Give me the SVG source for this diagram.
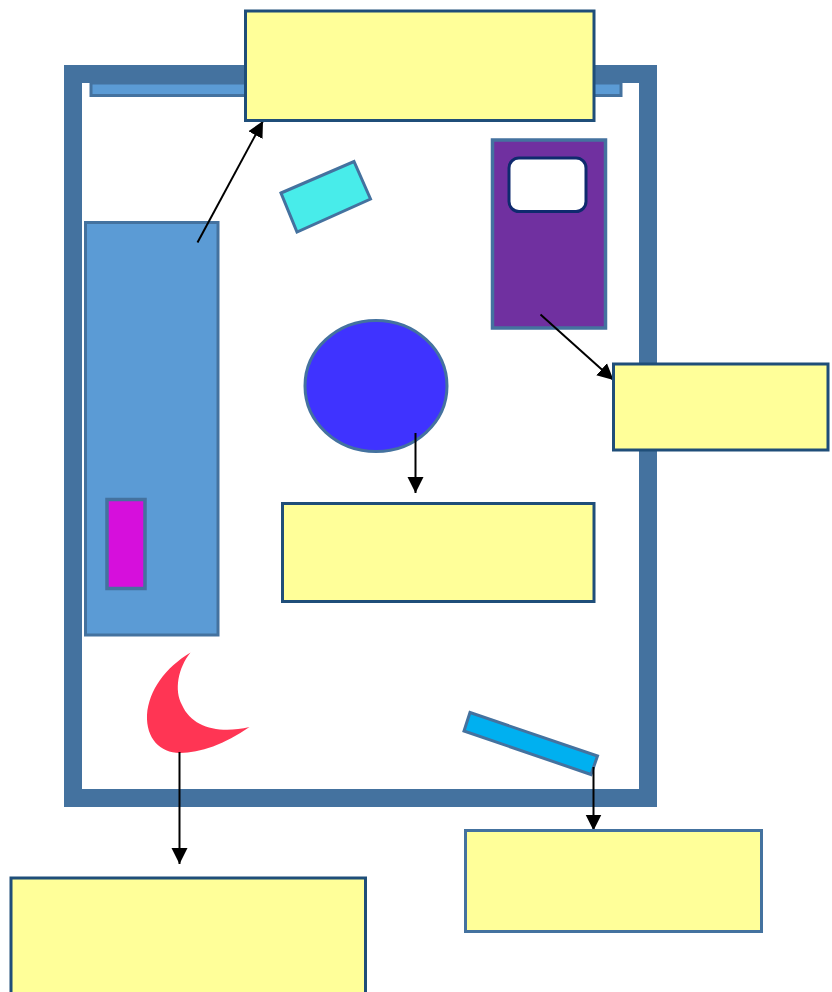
<svg xmlns="http://www.w3.org/2000/svg" width="832" height="992" viewBox="0 0 832 992">
<style>
.s{stroke:#44729f;stroke-width:3}
.n{fill:#ffff99;stroke:#1f4e79;stroke-width:3}
.c{stroke:#000;stroke-width:2;fill:none;marker-end:url(#a)}
</style>
<defs><marker id="a" markerUnits="userSpaceOnUse" markerWidth="17" markerHeight="17" refX="16" refY="8.500" orient="auto"><path d="M0 0.500L16 8.500L0 16.500Z" fill="#000"/></marker></defs>
<rect width="832" height="992" fill="#fff"/>
<g id="room"><rect x="73" y="74" width="575" height="724" fill="none" stroke="#44729f" stroke-width="18"/></g>
<g id="bar"><rect x="91" y="83" width="530" height="12.500" fill="#5b9bd5" class="s"/></g>
<g id="counter"><rect x="85.500" y="222.500" width="132.500" height="412.500" fill="#5b9bd5" class="s"/></g>
<g id="sink"><rect x="107" y="499.500" width="38" height="89" fill="#d60fdc" stroke="#44729f" stroke-width="3.500"/></g>
<g id="teal"><path d="M281 193L354 161.500L370.500 199L297 232Z" fill="#48ecea" class="s"/></g>
<g id="bed"><rect x="492.500" y="140" width="113" height="188" fill="#7030a0" stroke="#44729f" stroke-width="3.500"/><rect x="509" y="158" width="77" height="53.500" rx="10" fill="#fff" stroke="#0f2a6e" stroke-width="3"/></g>
<g id="circle"><ellipse cx="376" cy="386" rx="71" ry="65.500" fill="#3f33ff" stroke="#44729f" stroke-width="3"/></g>
<g id="crescent"><path d="M190.500 652.500C178 668 174 690 182 705C192 728 220 734 249.500 727C225 744 200 753 180 753C160 753 146 738 147 715C149 690 165 668 190.500 652.500Z" fill="#ff3554"/></g>
<g id="blue-bar"><path d="M470 712.500L597.500 756L591 774.500L464 731Z" fill="#00b0f0" class="s"/></g>
<g id="connectors">
<path class="c" d="M197.500 242.500L263 121"/>
<path class="c" d="M540.500 314.500L613.500 380"/>
<path class="c" d="M415.500 433V493"/>
<path class="c" d="M179.500 752V864"/>
<path class="c" d="M593.500 767V830.500"/>
</g>
<g id="n1"><rect class="n" x="245.500" y="11" width="348.500" height="109.500"/></g>
<g id="n2"><rect class="n" x="613.500" y="364" width="214.500" height="86"/></g>
<g id="n3"><rect class="n" x="282.500" y="503.500" width="311.500" height="98"/></g>
<g id="n4"><rect class="n" x="11" y="878" width="354.500" height="120"/></g>
<g id="n5"><rect x="465.500" y="830.500" width="296" height="101" fill="#ffff99" stroke="#44729f" stroke-width="3"/></g>
</svg>
